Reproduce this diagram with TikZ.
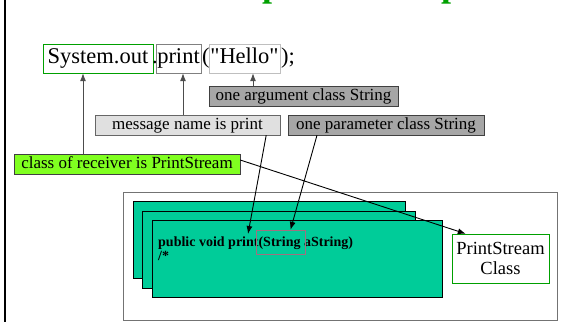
\documentclass[tikz,border=0pt]{standalone}
\usepackage{fontspec}
\setmainfont{Liberation Serif}
\newfontfamily\plainserif{Liberation Serif}
\usetikzlibrary{arrows.meta,positioning}

\definecolor{recvgreen}{RGB}{0,160,0}
\definecolor{limefill}{RGB}{128,255,32}
\definecolor{cardteal}{RGB}{0,204,153}
\definecolor{darkfill}{RGB}{166,166,166}
\definecolor{lightfill}{RGB}{224,224,224}
\definecolor{argred}{RGB}{160,112,128}

\begin{document}
\begin{tikzpicture}[
    x=1pt, y=-1pt,
    code/.style={rectangle, inner sep=0pt, minimum height=29pt, text height=15pt, text depth=5pt, font=\plainserif\fontsize{22.5}{26}\selectfont},
    codetext/.style={inner sep=0pt, anchor=base west, font=\plainserif\fontsize{22.5}{26}\selectfont},
    note/.style={rectangle, draw=black!75, inner sep=0pt, minimum height=20pt, text height=12pt, text depth=3.5pt, font=\fontsize{17}{20}\selectfont},
    card/.style={rectangle, draw=black, fill=cardteal, inner sep=0pt, minimum width=272pt, minimum height=77pt},
    method/.style={inner sep=0pt, anchor=base west, font=\fontsize{14}{14}\selectfont\bfseries},
    dataflow/.style={-{Latex[length=8pt,width=6pt]}, line width=0.9pt},
    upflow/.style={dataflow, draw=black!70}
]
\useasboundingbox (0,0) rectangle (570,322);
\clip (0,0) rectangle (570,322);

% heading, only its descenders show
\node[inner sep=0pt, anchor=base west, text=recvgreen, font=\fontsize{36}{40}\selectfont\bfseries] (head1) at (262,-4) {p};
\node[inner sep=0pt, anchor=base west, text=recvgreen, font=\fontsize{36}{40}\selectfont\bfseries] (head2) at (441,-4) {p};
\draw[line width=2pt] (4.5,0) -- (4.5,322);

% the message send
\node[code, draw=recvgreen, minimum width=110pt] (sysout) at (98,58.5) {System.out};
\node[codetext] (dot) at (152,63.5) {.};
\node[code, draw=black!50, minimum width=45pt] (print) at (178.5,58.5) {print};
\node[codetext] (lpar) at (202,63.5) {(};
\node[code, draw=black!25, minimum width=71pt] (hello) at (244.5,58.5) {"Hello"};
\node[codetext] (rpar) at (281,63.5) {);};

% notes
\node[note, fill=darkfill, minimum width=189pt] (argbox) at (303.5,96.5) {one argument class String};
\node[note, fill=lightfill, draw=black!60, minimum width=185pt] (msgbox) at (187.5,125) {message name is print};
\node[note, fill=darkfill, minimum width=196pt] (parambox) at (386,125) {one parameter class String};
\node[note, fill=limefill, minimum width=226pt] (recvbox) at (127,164) {class of receiver is PrintStream};

% class definition
\node[rectangle, draw=black!55, minimum width=434pt, minimum height=128pt] (frame) at (340,256) {};
\node[card] (card1) at (269,239.5) {};
\node[card, minimum width=273pt] (card2) at (278.5,249.5) {};
\node[card, minimum width=290pt] (card3) at (297,258.5) {};
\node[method] (signature) at (158,246.5) {public void print(String aString)};
\node[method] (comment) at (158,260) {/*};
\node[rectangle, draw=argred, inner sep=0pt, minimum width=49pt, minimum height=24pt] (strbox) at (280.5,242) {};
\coordinate (printname) at (248,234);
\node[rectangle, draw=recvgreen, fill=white, inner sep=0pt, minimum width=97pt, minimum height=49pt, align=center, font=\fontsize{18.5}{20}\selectfont] (prbox) at (500.5,258.5) {PrintStream\\Class};

\draw[upflow] ([xshift=-15pt]sysout.south |- recvbox.north) -- ([xshift=-15pt]sysout.south);
\draw[upflow] ([xshift=4.5pt]print.south |- msgbox.north) -- ([xshift=4.5pt]print.south);
\draw[upflow] ([xshift=8.5pt]hello.south |- argbox.north) -- ([xshift=8.5pt]hello.south);
\draw[dataflow] ([xshift=-14pt]msgbox.south east) -- (printname);
\draw[dataflow] ([xshift=-69pt]parambox.south) -- ([xshift=10pt]strbox.north);
\draw[dataflow] ([yshift=4pt]recvbox.east) -- ([xshift=14pt]prbox.north west);

\end{tikzpicture}
\end{document}
